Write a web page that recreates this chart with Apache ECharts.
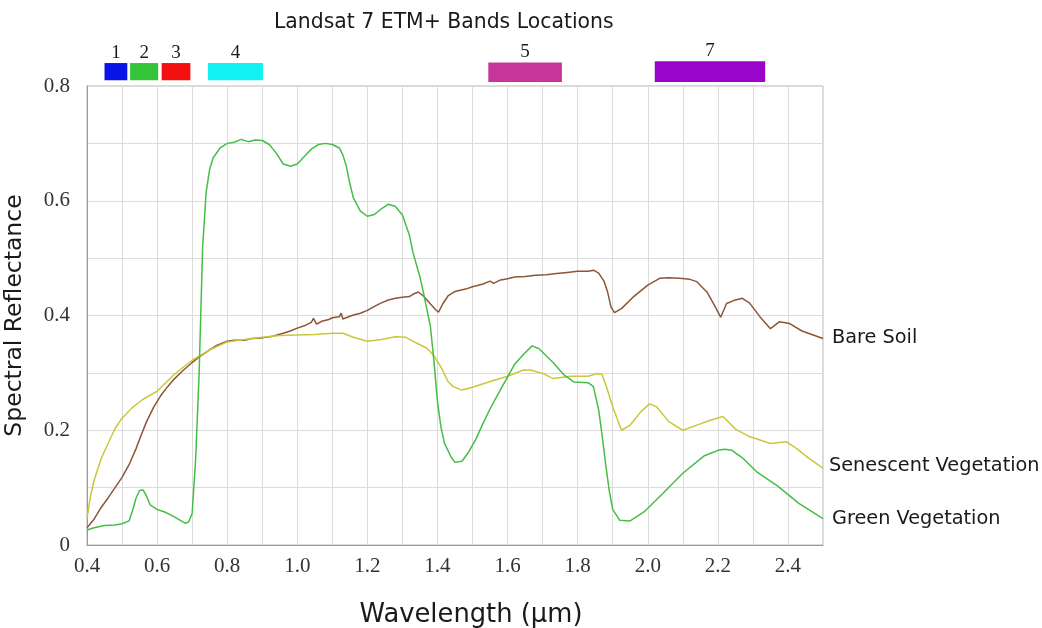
<!DOCTYPE html>
<html>
<head>
<meta charset="utf-8">
<script src="https://cdn.jsdelivr.net/npm/echarts@6/dist/echarts.min.js"></script>
<style>html,body{margin:0;padding:0;background:#fff;}#c{width:1042px;height:628px;}</style>
</head>
<body>
<div id="c"></div>
<script>
// ---- Data ----
const greenX = [0.40,0.42,0.45,0.48,0.50,0.52,0.53,0.54,0.55,0.56,0.57,0.58,0.60,0.62,0.64,0.66,0.68,0.69,0.70,0.71,0.72,0.73,0.74,0.75,0.76,0.78,0.80,0.82,0.84,0.86,0.88,0.90,0.92,0.94,0.96,0.98,1.00,1.02,1.04,1.06,1.08,1.10,1.12,1.13,1.14,1.15,1.16,1.18,1.20,1.22,1.24,1.26,1.28,1.30,1.32,1.33,1.35,1.36,1.38,1.39,1.40,1.41,1.42,1.44,1.45,1.47,1.49,1.51,1.53,1.55,1.57,1.60,1.62,1.645,1.67,1.69,1.71,1.73,1.76,1.79,1.83,1.845,1.86,1.87,1.88,1.89,1.90,1.92,1.95,1.99,2.04,2.10,2.16,2.20,2.22,2.24,2.27,2.31,2.37,2.43,2.50];
const greenY = [0.026,0.030,0.034,0.035,0.037,0.042,0.060,0.082,0.095,0.096,0.085,0.070,0.062,0.058,0.052,0.045,0.038,0.040,0.055,0.150,0.300,0.520,0.615,0.655,0.675,0.692,0.700,0.702,0.707,0.703,0.706,0.705,0.698,0.683,0.664,0.660,0.664,0.677,0.690,0.698,0.700,0.698,0.692,0.680,0.660,0.630,0.605,0.582,0.573,0.576,0.586,0.594,0.590,0.575,0.540,0.510,0.467,0.440,0.380,0.320,0.250,0.205,0.177,0.152,0.144,0.146,0.163,0.185,0.212,0.237,0.260,0.293,0.315,0.332,0.347,0.342,0.330,0.318,0.297,0.284,0.283,0.276,0.235,0.190,0.140,0.095,0.062,0.043,0.042,0.058,0.088,0.125,0.155,0.165,0.167,0.165,0.152,0.128,0.103,0.073,0.046];

const senX = [0.40,0.41,0.42,0.44,0.46,0.48,0.50,0.53,0.56,0.60,0.65,0.70,0.75,0.80,0.85,0.90,0.95,1.00,1.05,1.10,1.13,1.16,1.20,1.24,1.28,1.31,1.34,1.37,1.39,1.41,1.43,1.445,1.47,1.50,1.55,1.60,1.645,1.665,1.70,1.73,1.78,1.83,1.855,1.87,1.885,1.90,1.925,1.95,1.98,2.005,2.025,2.06,2.10,2.14,2.18,2.215,2.25,2.29,2.35,2.395,2.425,2.46,2.50];
const senY = [0.047,0.085,0.112,0.150,0.177,0.203,0.221,0.240,0.254,0.268,0.298,0.322,0.340,0.354,0.358,0.362,0.365,0.366,0.367,0.369,0.369,0.362,0.355,0.358,0.363,0.362,0.352,0.343,0.330,0.310,0.285,0.276,0.270,0.275,0.285,0.294,0.305,0.305,0.299,0.290,0.294,0.294,0.299,0.297,0.270,0.241,0.200,0.209,0.232,0.246,0.241,0.215,0.200,0.209,0.218,0.224,0.202,0.189,0.177,0.180,0.168,0.151,0.134];

const soilX = [0.40,0.42,0.44,0.46,0.48,0.50,0.52,0.54,0.555,0.57,0.59,0.61,0.63,0.65,0.67,0.70,0.72,0.75,0.77,0.80,0.82,0.85,0.87,0.90,0.93,0.96,0.98,1.00,1.02,1.04,1.046,1.055,1.07,1.09,1.10,1.12,1.125,1.13,1.16,1.18,1.20,1.22,1.24,1.26,1.28,1.30,1.32,1.33,1.345,1.36,1.38,1.395,1.403,1.415,1.43,1.45,1.48,1.50,1.53,1.55,1.56,1.58,1.60,1.62,1.65,1.68,1.71,1.74,1.77,1.80,1.83,1.845,1.86,1.875,1.885,1.895,1.905,1.925,1.96,2.00,2.035,2.06,2.09,2.12,2.14,2.17,2.19,2.208,2.225,2.245,2.27,2.29,2.32,2.35,2.375,2.405,2.44,2.50];
const soilY = [0.030,0.045,0.065,0.082,0.100,0.118,0.140,0.168,0.192,0.215,0.240,0.260,0.276,0.290,0.302,0.318,0.328,0.340,0.348,0.355,0.357,0.357,0.360,0.361,0.364,0.369,0.373,0.378,0.382,0.388,0.395,0.385,0.390,0.393,0.396,0.398,0.404,0.394,0.401,0.404,0.409,0.416,0.422,0.427,0.430,0.432,0.433,0.437,0.441,0.434,0.420,0.410,0.406,0.420,0.434,0.442,0.446,0.450,0.455,0.460,0.456,0.462,0.464,0.467,0.468,0.470,0.471,0.473,0.475,0.477,0.477,0.479,0.474,0.460,0.442,0.415,0.405,0.412,0.433,0.453,0.465,0.466,0.465,0.463,0.459,0.440,0.418,0.397,0.421,0.426,0.430,0.422,0.398,0.377,0.389,0.386,0.373,0.360];

const bandNames = ['1','2','3','4','5','7'];
const bandStart = [0.450,0.523,0.613,0.745,1.545,2.020];
const bandEnd   = [0.515,0.603,0.695,0.902,1.755,2.335];
const bandLow   = [0.810,0.810,0.810,0.810,0.807,0.807];
const bandHigh  = [0.840,0.840,0.840,0.840,0.841,0.843];
const bandColors = ['#0a14e6','#33c43a','#f21010','#12f2f2','#c8359a','#9a05cc'];

const seriesNames = ['Bare Soil','Senescent Vegetation','Green Vegetation'];
const yTickLabels = {0:'0',2:'0.2',4:'0.4',6:'0.6',8:'0.8'};

function zip(xs, ys){ return xs.map((x,i)=>[x, ys[i]]); }

const chart = echarts.init(document.getElementById('c'), null, {renderer:'canvas'});
const serifFont = '"Liberation Serif", "DejaVu Serif", serif';
const sansFont = '"DejaVu Sans", sans-serif';

const bandData = bandNames.map((n,i)=>[bandStart[i], bandEnd[i], bandLow[i], bandHigh[i], i]);

chart.setOption({
  animation: false,
  backgroundColor: '#ffffff',
  title: {
    text: 'Landsat 7 ETM+ Bands Locations',
    left: 269, top: 8,
    textStyle: {fontFamily: sansFont, fontSize: 20.4, fontWeight: 'normal', color: '#1a1a1a'}
  },
  grid: {left: 87, right: 219, top: 86, bottom: 83, show: true, borderColor: '#b5b5b5', borderWidth: 1, outerBoundsMode: 'none', containLabel: false},
  xAxis: {
    type: 'value', min: 0.4, max: 2.5, interval: 0.1,
    name: 'Wavelength (µm)', nameLocation: 'middle', nameGap: 57,
    nameTextStyle: {fontFamily: sansFont, fontSize: 25.8, color: '#1a1a1a', padding:[0,0,0,32]},
    axisLine: {show: true, lineStyle: {color: '#9a9a9a', width: 1}},
    axisTick: {show: false},
    splitLine: {show: true, lineStyle: {color: '#dcdcdc', width: 1}},
    axisLabel: {
      fontFamily: serifFont, fontSize: 21, color: '#333', margin: 11,
      formatter: v => { const k = Math.round(v*10); return (k % 2 === 0 && k < 25) ? (k/10).toFixed(1) : ''; }
    }
  },
  yAxis: {
    type: 'value', min: 0, max: 0.8, interval: 0.1,
    name: 'Spectral Reflectance', nameLocation: 'middle', nameGap: 60,
    nameTextStyle: {fontFamily: sansFont, fontSize: 23.5, color: '#1a1a1a'},
    axisLine: {show: true, lineStyle: {color: '#9a9a9a', width: 1}},
    axisTick: {show: false},
    splitLine: {show: true, lineStyle: {color: '#dcdcdc', width: 1}},
    axisLabel: {
      fontFamily: serifFont, fontSize: 21, color: '#333', margin: 17,
      formatter: v => { const k = Math.round(v*10); return yTickLabels[k] !== undefined ? yTickLabels[k] : ''; }
    }
  },
  series: [
    {
      name: seriesNames[0], type: 'line', data: zip(soilX, soilY), showSymbol: false, symbol: 'none',
      lineStyle: {color: '#8c5636', width: 1.5}, itemStyle: {color: '#8c5636'},
      endLabel: {show: true, formatter: '{a}', distance: 9, fontFamily: sansFont, fontSize: 19.3, color: '#1a1a1a'}
    },
    {
      name: seriesNames[1], type: 'line', data: zip(senX, senY), showSymbol: false, symbol: 'none',
      lineStyle: {color: '#c9c83a', width: 1.5}, itemStyle: {color: '#c9c83a'},
      endLabel: {show: true, formatter: '{a}', distance: 6, fontFamily: sansFont, fontSize: 19.3, color: '#1a1a1a', offset:[0,-2]}
    },
    {
      name: seriesNames[2], type: 'line', data: zip(greenX, greenY), showSymbol: false, symbol: 'none',
      lineStyle: {color: '#46be46', width: 1.5}, itemStyle: {color: '#46be46'},
      endLabel: {show: true, formatter: '{a}', distance: 9, fontFamily: sansFont, fontSize: 19.3, color: '#1a1a1a'}
    },
    {
      type: 'custom', name: 'bands', data: bandData, clip: false, silent: true,
      renderItem: function(params, api){
        const s = api.value(0), e = api.value(1), lo = api.value(2), hi = api.value(3), idx = api.value(4);
        const p1 = api.coord([s, hi]);
        const p2 = api.coord([e, lo]);
        return {
          type: 'group',
          children: [
            {type: 'rect', shape: {x: p1[0], y: p1[1], width: p2[0]-p1[0], height: p2[1]-p1[1]},
             style: {fill: bandColors[idx]}},
            {type: 'text', style: {text: bandNames[idx], x: (p1[0]+p2[0])/2, y: p1[1]-1,
             align: 'center', verticalAlign: 'bottom', font: '19px ' + serifFont, fill: '#1a1a1a'}}
          ]
        };
      }
    }
  ]
});
</script>
</body>
</html>
